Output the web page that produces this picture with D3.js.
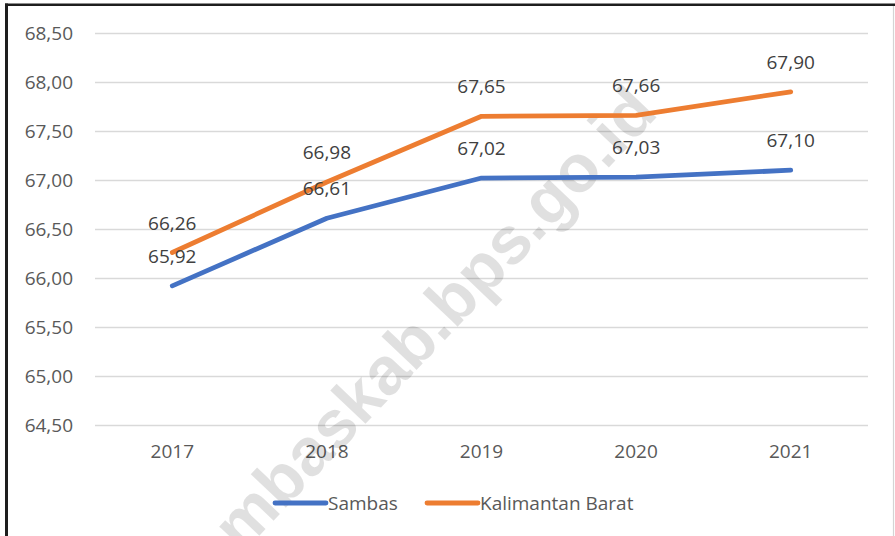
<!DOCTYPE html>
<html>
<head>
<meta charset="utf-8">
<script src="https://cdn.jsdelivr.net/npm/d3@7"></script>
<style>
  html, body { margin: 0; padding: 0; background: #fff; }
  svg { display: block; }
  text { font-family: "Open Sans", "Noto Sans", sans-serif; }
</style>
</head>
<body>
<script>
// Angka Harapan Hidup: Sambas vs Kalimantan Barat, 2017–2021
const years = ["2017", "2018", "2019", "2020", "2021"];
const sambas = [65.92, 66.61, 67.02, 67.03, 67.10];
const kalbar = [66.26, 66.98, 67.65, 67.66, 67.90];
const yTicks = [64.5, 65.0, 65.5, 66.0, 66.5, 67.0, 67.5, 68.0, 68.5];
const seriesNames = ["Sambas", "Kalimantan Barat"];
const seriesColors = ["#4472C4", "#ED7D31"];

const W = 895, H = 536;
const FS = "19px";
const svg = d3.select("body").append("svg").attr("width", W).attr("height", H);

const fmt = v => d3.format(".2f")(v).replace(".", ",");

const x = d3.scaleBand().domain(years).range([95, 868]).paddingInner(0).paddingOuter(0);
const y = d3.scaleLinear().domain([64.5, 68.5]).range([425, 33]);
const cx = d => x(d) + x.bandwidth() / 2;

// frame
svg.append("line").attr("x1", 5).attr("x2", W).attr("y1", 4.7).attr("y2", 4.7)
  .attr("stroke", "#1e1e1e").attr("stroke-width", 2.6);
svg.append("line").attr("x1", 6.5).attr("x2", 6.5).attr("y1", 3.5).attr("y2", H)
  .attr("stroke", "#1e1e1e").attr("stroke-width", 3);
svg.append("line").attr("x1", 893.5).attr("x2", 893.5).attr("y1", 6).attr("y2", H)
  .attr("stroke", "#d4d4d4").attr("stroke-width", 1.2);

// gridlines + y tick labels
const yAxis = d3.axisLeft(y).tickValues(yTicks).tickFormat(fmt).tickSize(-(868 - 95)).tickPadding(22);
const gy = svg.append("g").attr("transform", "translate(95,0)").call(yAxis);
gy.select(".domain").remove();
gy.selectAll(".tick line").attr("stroke", "#d9d9d9").attr("stroke-width", 1.3);
gy.selectAll(".tick text").attr("fill", "#595959").style("font-size", FS)
  .style("font-family", "'Open Sans', 'Noto Sans', sans-serif");

// x axis labels
const xAxis = d3.axisBottom(x).tickSize(0).tickPadding(20);
const gx = svg.append("g").attr("transform", "translate(0,425)").call(xAxis);
gx.select(".domain").remove();
gx.selectAll(".tick text").attr("fill", "#595959").style("font-size", FS)
  .style("font-family", "'Open Sans', 'Noto Sans', sans-serif");

// watermark
svg.append("text")
  .attr("transform", "translate(408,345) rotate(-46.5)")
  .attr("text-anchor", "middle")
  .attr("dominant-baseline", "central")
  .style("font-family", "'Liberation Sans', Arial, sans-serif")
  .style("font-weight", "bold")
  .style("font-size", "67px")
  .attr("fill", "#000")
  .attr("fill-opacity", 0.12)
  .text("sambaskab.bps.go.id");

// series lines
const line = d3.line().x((d, i) => cx(years[i])).y(d => y(d));
[sambas, kalbar].forEach((vals, k) => {
  svg.append("path").datum(vals)
    .attr("d", line)
    .attr("fill", "none")
    .attr("stroke", seriesColors[k])
    .attr("stroke-width", 4.8)
    .attr("stroke-linecap", "round")
    .attr("stroke-linejoin", "round");
});

// data labels
[sambas, kalbar].forEach(vals => {
  svg.append("g").selectAll("text").data(vals).join("text")
    .attr("x", (d, i) => cx(years[i]))
    .attr("y", d => y(d) - 30)
    .attr("text-anchor", "middle")
    .attr("dominant-baseline", "central")
    .attr("fill", "#404040")
    .style("font-size", FS)
    .text(d => fmt(d));
});

// legend
const legendItems = [
  { name: seriesNames[0], color: seriesColors[0], x0: 275, x1: 326, tx: 328 },
  { name: seriesNames[1], color: seriesColors[1], x0: 427, x1: 478, tx: 480 }
];
const lg = svg.append("g");
legendItems.forEach(it => {
  lg.append("line").attr("x1", it.x0).attr("x2", it.x1).attr("y1", 503).attr("y2", 503)
    .attr("stroke", it.color).attr("stroke-width", 4.8).attr("stroke-linecap", "round");
  lg.append("text").attr("x", it.tx).attr("y", 503).attr("dominant-baseline", "central")
    .attr("fill", "#595959").style("font-size", FS).text(it.name);
});
</script>
</body>
</html>
